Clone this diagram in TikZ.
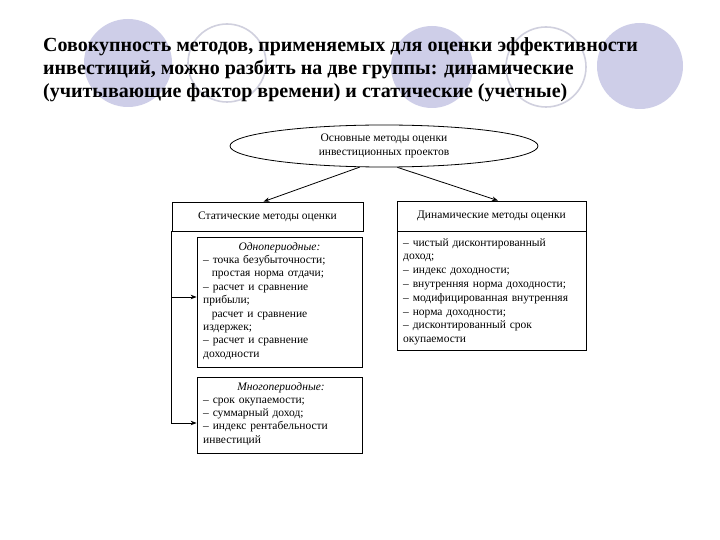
\documentclass[tikz,border=0pt]{standalone}
\usepackage{fontspec}
\setmainfont{Liberation Serif}
\usetikzlibrary{shapes.geometric,arrows.meta,calc}
\definecolor{lav}{RGB}{206,206,232}
\definecolor{lavline}{RGB}{208,208,222}
\begin{document}
\begin{tikzpicture}[x=1pt,y=-1pt,
  box/.style={draw, line width=0.8pt, inner sep=0pt},
  txt/.style={font=\fontsize{11.5}{13.8}\selectfont, inner sep=0pt},
  ttl/.style={font=\fontsize{20}{24}\selectfont\bfseries, inner sep=0pt, anchor=base west},
  arr/.style={-{Stealth[length=6pt,width=4.5pt]}, line width=0.8pt},
  disc/.style={fill=lav},
  ring/.style={draw=lavline, line width=1.6pt}]
\useasboundingbox (0,0) rectangle (720,540);
\fill[white] (0,0) rectangle (720,540);
% background circles
\fill[disc] (128,63) circle (44);
\draw[ring] (227,63) circle (39);
\fill[disc] (432,67) circle (41);
\draw[ring] (546,67) circle (40);
\fill[disc] (640,66) circle (43);
% title
\node[ttl] (t1) at (43,52) {Совокупность методов, применяемых для оценки эффективности};
\node[ttl] (t2) at (43,75) {инвестиций, можно разбить на две группы: динамические};
\node[ttl] (t3) at (43,98) {(учитывающие фактор времени) и статические (учетные)};
% ellipse
\node[box, ellipse, minimum width=308pt, minimum height=42pt, align=center,
      font=\fontsize{11.5}{14.5}\selectfont] (ell) at (384,146)
      {Основные методы оценки\\инвестиционных проектов};
% static
\node[box, minimum width=191pt, minimum height=29pt, txt] (stat) at (267.5,216.5) {Статические методы оценки};
\node[box, minimum width=165pt, minimum height=130pt] (single) at (279.5,302) {};
\node[box, minimum width=165pt, minimum height=76pt] (multi) at (279.5,415) {};
\node[txt, anchor=base] (sh) at (279.5,250) {\itshape Однопериодные:};
\node[txt, anchor=north west, text width=155pt, align=left,
      font=\fontsize{11.5}{13.4}\selectfont] (sl) at (203,254.0)
  {\strut– точка безубыточности;\\
   \hspace*{0.75em}простая норма отдачи;\\
   – расчет и сравнение\\
   прибыли;\\
   \hspace*{0.75em}расчет и сравнение\\
   издержек;\\
   – расчет и сравнение\\
   доходности};
\node[txt, anchor=base] (mh) at (281,390) {\itshape Многопериодные:};
\node[txt, anchor=north west, text width=155pt, align=left,
      font=\fontsize{11.5}{13.25}\selectfont] (ml) at (203,394.0)
  {\strut– срок окупаемости;\\
   – суммарный доход;\\
   – индекс рентабельности\\
   инвестиций};
% dynamic
\node[box, minimum width=189pt, minimum height=30pt, txt] (dyn) at (491.5,216) {Динамические методы оценки};
\node[box, minimum width=189pt, minimum height=119pt] (dl) at (491.5,290.5) {};
\node[txt, anchor=north west, text width=180pt, align=left] (dlt) at (403,236.3)
  {\strut– чистый дисконтированный\\
   доход;\\
   – индекс доходности;\\
   – внутренняя норма доходности;\\
   – модифицированная внутренняя\\
   – норма доходности;\\
   – дисконтированный срок\\
   окупаемости};
% connectors
\draw[arr] (ell.221) -- ([xshift=-4pt]stat.north);
\draw[arr] (ell.302) -- ([xshift=6.5pt]dyn.north);
\coordinate (sa) at ([yshift=5pt]single.west);
\coordinate (ma) at ([yshift=-8pt]multi.west);
\draw[arr] (stat.south west) |- (ma);
\draw[arr] (stat.south west |- sa) -- (sa);
\end{tikzpicture}
\end{document}
